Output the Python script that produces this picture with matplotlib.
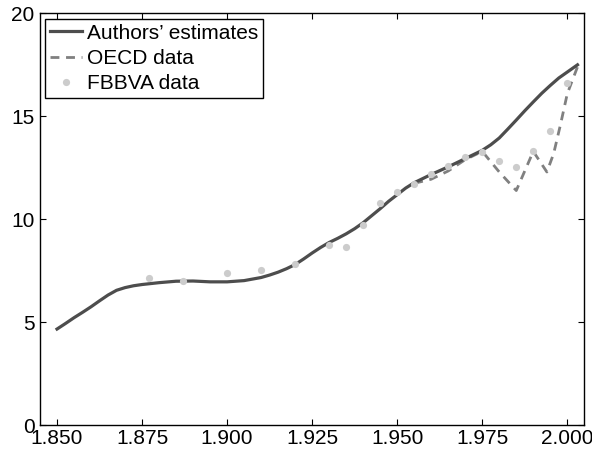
import matplotlib
matplotlib.use("Agg")
import matplotlib.pyplot as plt
from matplotlib.ticker import FuncFormatter

plt.rcParams['font.family'] = ['Liberation Sans', 'DejaVu Sans']

# Authors' estimates (smooth series)
est_years = [1850, 1852.5, 1855, 1857.5, 1860, 1862.5, 1865, 1867.5, 1870, 1872.5,
             1875, 1880, 1885, 1890, 1895, 1900, 1905, 1910, 1912.5, 1915, 1917.5,
             1920, 1922.5, 1925, 1927.5, 1930, 1932.5, 1935, 1937.5, 1940, 1942.5,
             1945, 1947.5, 1950, 1952.5, 1955, 1960, 1965, 1970, 1975, 1977.5,
             1980, 1982.5, 1985, 1987.5, 1990, 1992.5, 1995, 1997.5, 2000, 2003]
est_values = [4.68, 4.95, 5.23, 5.49, 5.76, 6.05, 6.33, 6.56, 6.69, 6.78,
              6.84, 6.93, 7.00, 7.01, 6.97, 6.97, 7.03, 7.18, 7.30, 7.44, 7.61,
              7.81, 8.08, 8.37, 8.64, 8.88, 9.08, 9.30, 9.55, 9.84, 10.18,
              10.52, 10.88, 11.20, 11.52, 11.78, 12.18, 12.55, 12.95, 13.35, 13.62,
              13.95, 14.38, 14.82, 15.27, 15.70, 16.12, 16.50, 16.86, 17.15, 17.50]

# OECD data
oecd_years = [1955, 1960, 1965, 1970, 1975, 1980, 1985, 1990, 1994, 1996, 1998, 2000, 2003]
oecd_values = [11.75, 11.95, 12.35, 12.90, 13.30, 12.30, 11.40, 13.30, 12.30, 13.20, 14.60, 16.10, 17.40]

# FBBVA data
fbbva_years = [1877, 1887, 1900, 1910, 1920, 1930, 1935, 1940, 1945, 1950, 1955,
               1960, 1965, 1970, 1975, 1980, 1985, 1990, 1995, 2000]
fbbva_values = [7.14, 7.00, 7.41, 7.54, 7.84, 8.78, 8.68, 9.72, 10.78, 11.33, 11.70,
                12.19, 12.59, 13.01, 13.27, 12.83, 12.53, 13.32, 14.29, 16.60]

x_ticks = [1850, 1875, 1900, 1925, 1950, 1975, 2000]
y_ticks = [0, 5, 10, 15, 20]

fig = plt.figure(figsize=(5.92, 4.54), dpi=100)
ax = fig.add_axes([0.0676, 0.0628, 0.9194, 0.9079])

ax.plot(est_years, est_values, color='#4d4d4d', lw=2.3, solid_joinstyle='round',
        label="Authors\u2019 estimates", zorder=3)
ax.plot(oecd_years, oecd_values, color='#808080', lw=2.0, linestyle=(0, (3.2, 2.4)),
        label='OECD data', zorder=2)
ax.plot(fbbva_years, fbbva_values, linestyle='none', marker='o', ms=5.2,
        color='#cccccc', mec='none', label='FBBVA data', zorder=4)

ax.set_xlim(1845, 2005)
ax.set_ylim(0, 20)
ax.set_xticks(x_ticks)
ax.set_yticks(y_ticks)
ax.xaxis.set_major_formatter(FuncFormatter(lambda v, p: f"{int(v):,}".replace(',', '.')))
ax.tick_params(direction='in', length=4.5, width=0.8, top=True, right=True,
               labelsize=15, pad=2.5, colors='black')
ax.tick_params(axis='y', pad=4)
for s in ax.spines.values():
    s.set_linewidth(1.0)
    s.set_color('black')

leg = ax.legend(loc='upper left', fontsize=15, frameon=True, fancybox=False,
                edgecolor='black', framealpha=1, borderpad=0.25, handlelength=1.5,
                handletextpad=0.25, labelspacing=0.3, borderaxespad=0.25)
leg.get_frame().set_linewidth(1.0)

fig.savefig('out.png', dpi=100)
